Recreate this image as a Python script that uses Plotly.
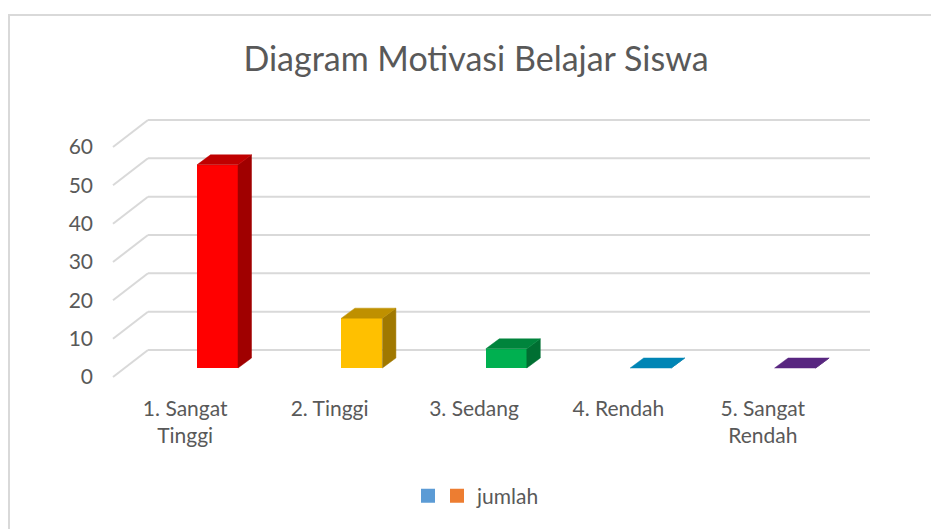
import plotly.graph_objects as go

# ---------------- data ----------------
categories = ["1. Sangat<br>Tinggi", "2. Tinggi", "3. Sedang", "4. Rendah", "5. Sangat<br>Rendah"]
values = [53, 13, 5, 0, 0]
front_colors = ["#FF0000", "#FFC000", "#00B050", "#00B0F0", "#7030A0"]
top_colors = ["#C00000", "#BF9000", "#00843C", "#0085B5", "#582680"]
side_colors = ["#A00000", "#A07800", "#006F32", "#006E96", "#461E64"]
y_ticks = [0, 10, 20, 30, 40, 50, 60]
legend_names = [" ", "jumlah"]
legend_colors = ["#5B9BD5", "#ED7D31"]
title_text = "Diagram Motivasi Belajar Siswa"

# ---------------- geometry (style constants, px) ----------------
W, H = 931, 529
L, R_px = 110, 931          # plot area horizontal extent
T, B_px = 105, 380          # plot area vertical extent
front_left_px = 113         # front-left corner of the floor
px_per_cat = 144.4
px_per_unit = 230 / 60
zero_px = 377               # y px of value 0 on the front plane

x_range = [-0.5 - (front_left_px - L) / px_per_cat,
           -0.5 + (R_px - front_left_px) / px_per_cat]
y_range = [(zero_px - B_px) / px_per_unit, (zero_px - T) / px_per_unit]

back_dx = 35 / px_per_cat
back_dy = 27 / px_per_unit
bar_shift = 32.3 / px_per_cat
bar_base = 9 / px_per_unit
bar_w = 41 / px_per_cat
depth_dx = 13.5 / px_per_cat
depth_dy = 10 / px_per_unit

n = len(categories)
xpos = list(range(n))

fig = go.Figure()

# front faces of bars
fig.add_trace(go.Bar(
    x=[i + bar_shift for i in xpos], y=values, base=bar_base, width=bar_w,
    marker=dict(color=front_colors, line=dict(width=0)),
    showlegend=False, hoverinfo="skip"))

# top and side faces
for i, v in enumerate(values):
    x0 = i + bar_shift - bar_w / 2
    x1 = x0 + bar_w
    yt = bar_base + v
    fig.add_trace(go.Scatter(
        x=[x1, x1, x1 + depth_dx, x1 + depth_dx, x1],
        y=[bar_base, yt, yt + depth_dy, bar_base + depth_dy, bar_base],
        fill="toself", fillcolor=side_colors[i], mode="lines",
        line=dict(width=0.5, color=side_colors[i]),
        showlegend=False, hoverinfo="skip"))
    fig.add_trace(go.Scatter(
        x=[x0, x1, x1 + depth_dx, x0 + depth_dx, x0],
        y=[yt, yt, yt + depth_dy, yt + depth_dy, yt],
        fill="toself", fillcolor=top_colors[i], mode="lines",
        line=dict(width=0.5, color=top_colors[i]),
        showlegend=False, hoverinfo="skip"))

# legend entries
fig.add_trace(go.Scatter(x=[None], y=[None], mode="markers", name=legend_names[0],
                         marker=dict(symbol="square", size=14, color=legend_colors[0]),
                         legend="legend2"))
fig.add_trace(go.Scatter(x=[None], y=[None], mode="markers", name=legend_names[1],
                         marker=dict(symbol="square", size=14, color=legend_colors[1]),
                         legend="legend"))

# wall gridlines (back wall + side wall)
grid_color = "#D9D9D9"
shapes = []
for v in y_ticks:
    shapes.append(dict(type="line", xref="x", yref="y", layer="below",
                       x0=-0.5 + back_dx, x1=n - 0.5 + back_dx,
                       y0=v + back_dy, y1=v + back_dy,
                       line=dict(color=grid_color, width=2)))
    shapes.append(dict(type="line", xref="x", yref="y", layer="below",
                       x0=-0.5, x1=-0.5 + back_dx, y0=v, y1=v + back_dy,
                       line=dict(color=grid_color, width=2)))

# chart border (paper coords computed from px)
pw, ph = R_px - L, B_px - T
def px2paper_x(px): return (px - L) / pw
def px2paper_y(py): return (B_px - py) / ph
shapes.append(dict(type="rect", xref="paper", yref="paper", layer="below",
                   x0=px2paper_x(9), x1=px2paper_x(960),
                   y0=px2paper_y(560), y1=px2paper_y(15),
                   line=dict(color="#D9D9D9", width=2), fillcolor="rgba(0,0,0,0)"))

text_color = "#595959"
font_family = "Lato, Carlito, Calibri, sans-serif"

fig.update_layout(
    width=W, height=H,
    margin=dict(l=L, r=W - R_px, t=T, b=H - B_px, pad=0),
    paper_bgcolor="white", plot_bgcolor="rgba(0,0,0,0)",
    font=dict(family=font_family, color=text_color, size=21),
    title=dict(text=title_text, x=476 / W, xanchor="center",
               y=1 - 59 / H, yanchor="middle", yref="container",
               font=dict(size=34, color=text_color, family=font_family)),
    xaxis=dict(range=x_range, tickvals=xpos, ticktext=categories,
               showgrid=False, zeroline=False, showline=False, ticks="",
               tickfont=dict(size=21, color=text_color), ticklabelstandoff=14,
               fixedrange=True),
    yaxis=dict(range=y_range, tickvals=y_ticks, ticktext=[str(t) for t in y_ticks],
               showgrid=False, zeroline=False, showline=False, ticks="",
               tickfont=dict(size=21, color=text_color), ticklabelstandoff=16,
               fixedrange=True),
    shapes=shapes,
    showlegend=True,
    legend=dict(orientation="h", x=px2paper_x(437), xanchor="left",
                y=px2paper_y(496), yanchor="middle",
                font=dict(size=21, color=text_color), bgcolor="rgba(0,0,0,0)"),
    legend2=dict(orientation="h", x=px2paper_x(408), xanchor="left",
                 y=px2paper_y(496), yanchor="middle",
                 font=dict(size=21, color=text_color), bgcolor="rgba(0,0,0,0)"),
    bargap=0,
)

fig.write_html("out.html")
